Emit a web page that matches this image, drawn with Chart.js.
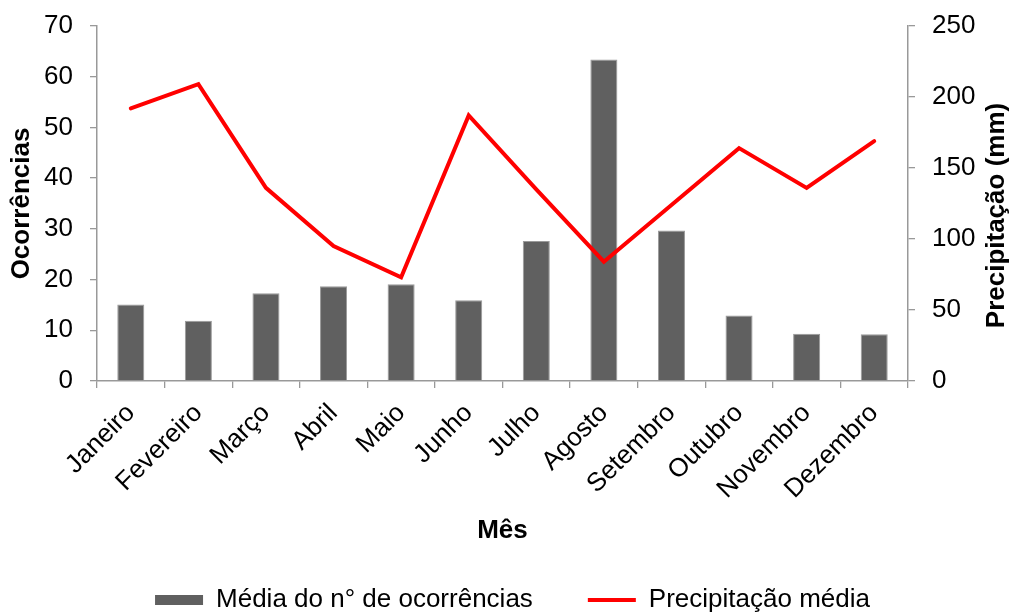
<!DOCTYPE html>
<html>
<head>
<meta charset="utf-8">
<script src="https://cdn.jsdelivr.net/npm/chart.js@4.4.1/dist/chart.umd.min.js"></script>
<style>
html,body{margin:0;padding:0;overflow:hidden;background:#fff;}
#wrap{position:relative;width:1015px;height:623px;}
</style>
</head>
<body>
<div id="wrap"><canvas id="c"></canvas></div>
<script>
// ---- data ----
const months = ["Janeiro","Fevereiro","Março","Abril","Maio","Junho","Julho","Agosto","Setembro","Outubro","Novembro","Dezembro"];
const occurrences = [15.1, 11.9, 17.3, 18.7, 19.1, 15.9, 27.6, 63.4, 29.7, 12.9, 9.3, 9.2];
const precipitation = [192, 209, 136, 95, 73, 187, 135, 84, 124, 164, 136, 169];
const seriesNames = ["Média do n° de ocorrências", "Precipitação média"];
const leftAxisTicks = [0, 10, 20, 30, 40, 50, 60, 70];
const rightAxisTicks = [0, 50, 100, 150, 200, 250];
const xTitle = "Mês";
const leftTitle = "Ocorrências";
const rightTitle = "Precipitação (mm)";

// ---- styles ----
const FAMILY = '"Liberation Sans", Arial, Helvetica, sans-serif';
const barColor = '#606060';
const barEdge = '#9a9a9a';
const lineColor = '#ff0000';
const axisColor = '#999999';

Chart.defaults.font.family = FAMILY;
Chart.defaults.color = '#000';

const rightTitlePlugin = {
  id: 'rightTitle',
  afterLayout(chart) {
    if (chart.legend) { chart.legend.left += 5; chart.legend.right += 5; }
  },
  afterDraw(chart) {
    const ctx = chart.ctx;
    const a = chart.chartArea;
    ctx.save();
    ctx.translate(997, (a.top + a.bottom) / 2 + 12);
    ctx.rotate(-Math.PI / 2);
    ctx.font = 'bold 26px ' + FAMILY;
    ctx.fillStyle = '#000';
    ctx.textAlign = 'center';
    ctx.textBaseline = 'middle';
    ctx.fillText(rightTitle, 0, 0);
    ctx.restore();
  }
};

function pinVertical(width) {
  return function (s) {
    s.width = width;
    s.paddingTop = 0;
    s.paddingBottom = 0;
  };
}

new Chart(document.getElementById('c'), {
  type: 'bar',
  data: {
    labels: months,
    datasets: [
      {
        type: 'line',
        label: seriesNames[1],
        data: precipitation,
        yAxisID: 'y1',
        borderColor: lineColor,
        backgroundColor: lineColor,
        borderWidth: 4,
        pointRadius: 0,
        tension: 0,
        borderCapStyle: 'round',
        order: 0
      },
      {
        type: 'bar',
        label: seriesNames[0],
        data: occurrences,
        yAxisID: 'y',
        backgroundColor: barColor,
        borderColor: barEdge,
        borderWidth: 1,
        barPercentage: 0.4,
        categoryPercentage: 1.0,
        order: 1
      }
    ]
  },
  options: {
    responsive: true,
    maintainAspectRatio: false,
    animation: false,
    devicePixelRatio: 1,
    layout: { padding: { top: 26, left: 0, right: 0, bottom: 0 } },
    plugins: {
      tooltip: { enabled: false },
      legend: {
        position: 'bottom',
        labels: {
          usePointStyle: true,
          pointStyleWidth: 48,
          boxHeight: 10,
          padding: 55,
          font: { size: 26, family: FAMILY },
          color: '#000',
          generateLabels() {
            return [
              { text: seriesNames[0], fillStyle: barColor, strokeStyle: barColor, lineWidth: 0, pointStyle: 'rect', datasetIndex: 1, hidden: false },
              { text: seriesNames[1], fillStyle: lineColor, strokeStyle: lineColor, lineWidth: 4, pointStyle: 'line', datasetIndex: 0, hidden: false }
            ];
          }
        }
      }
    },
    scales: {
      x: {
        offset: true,
        grid: { display: true, offset: true, drawOnChartArea: false, drawTicks: true, tickLength: 7, color: axisColor, lineWidth: 1.3 },
        border: { display: true, color: axisColor, width: 1.5 },
        ticks: { autoSkip: false, minRotation: 45, maxRotation: 45, font: { size: 26 }, color: '#000', padding: 10 },
        title: { display: true, text: xTitle, font: { size: 26, weight: 'bold' }, color: '#000', padding: { top: 0, bottom: -14 } },
        afterFit(s) { s.height = 151; }
      },
      y: {
        position: 'left',
        min: leftAxisTicks[0],
        max: leftAxisTicks[leftAxisTicks.length - 1],
        afterBuildTicks(s) { s.ticks = leftAxisTicks.map(v => ({ value: v })); },
        grid: { display: true, drawOnChartArea: false, drawTicks: true, tickLength: 7, color: axisColor, lineWidth: 1.3 },
        border: { display: true, color: axisColor, width: 1.5 },
        ticks: { font: { size: 26 }, color: '#000', padding: 17 },
        title: { display: true, text: leftTitle, font: { size: 26, weight: 'bold' }, color: '#000', padding: { top: 6, bottom: 0 } },
        afterFit: pinVertical(97)
      },
      y1: {
        position: 'right',
        min: rightAxisTicks[0],
        max: rightAxisTicks[rightAxisTicks.length - 1],
        afterBuildTicks(s) { s.ticks = rightAxisTicks.map(v => ({ value: v })); },
        grid: { display: true, drawOnChartArea: false, drawTicks: true, tickLength: 7, color: axisColor, lineWidth: 1.3 },
        border: { display: true, color: axisColor, width: 1.5 },
        ticks: { font: { size: 26 }, color: '#000', padding: 17 },
        title: { display: false },
        afterFit: pinVertical(107)
      }
    }
  },
  plugins: [rightTitlePlugin]
});
</script>
</body>
</html>
